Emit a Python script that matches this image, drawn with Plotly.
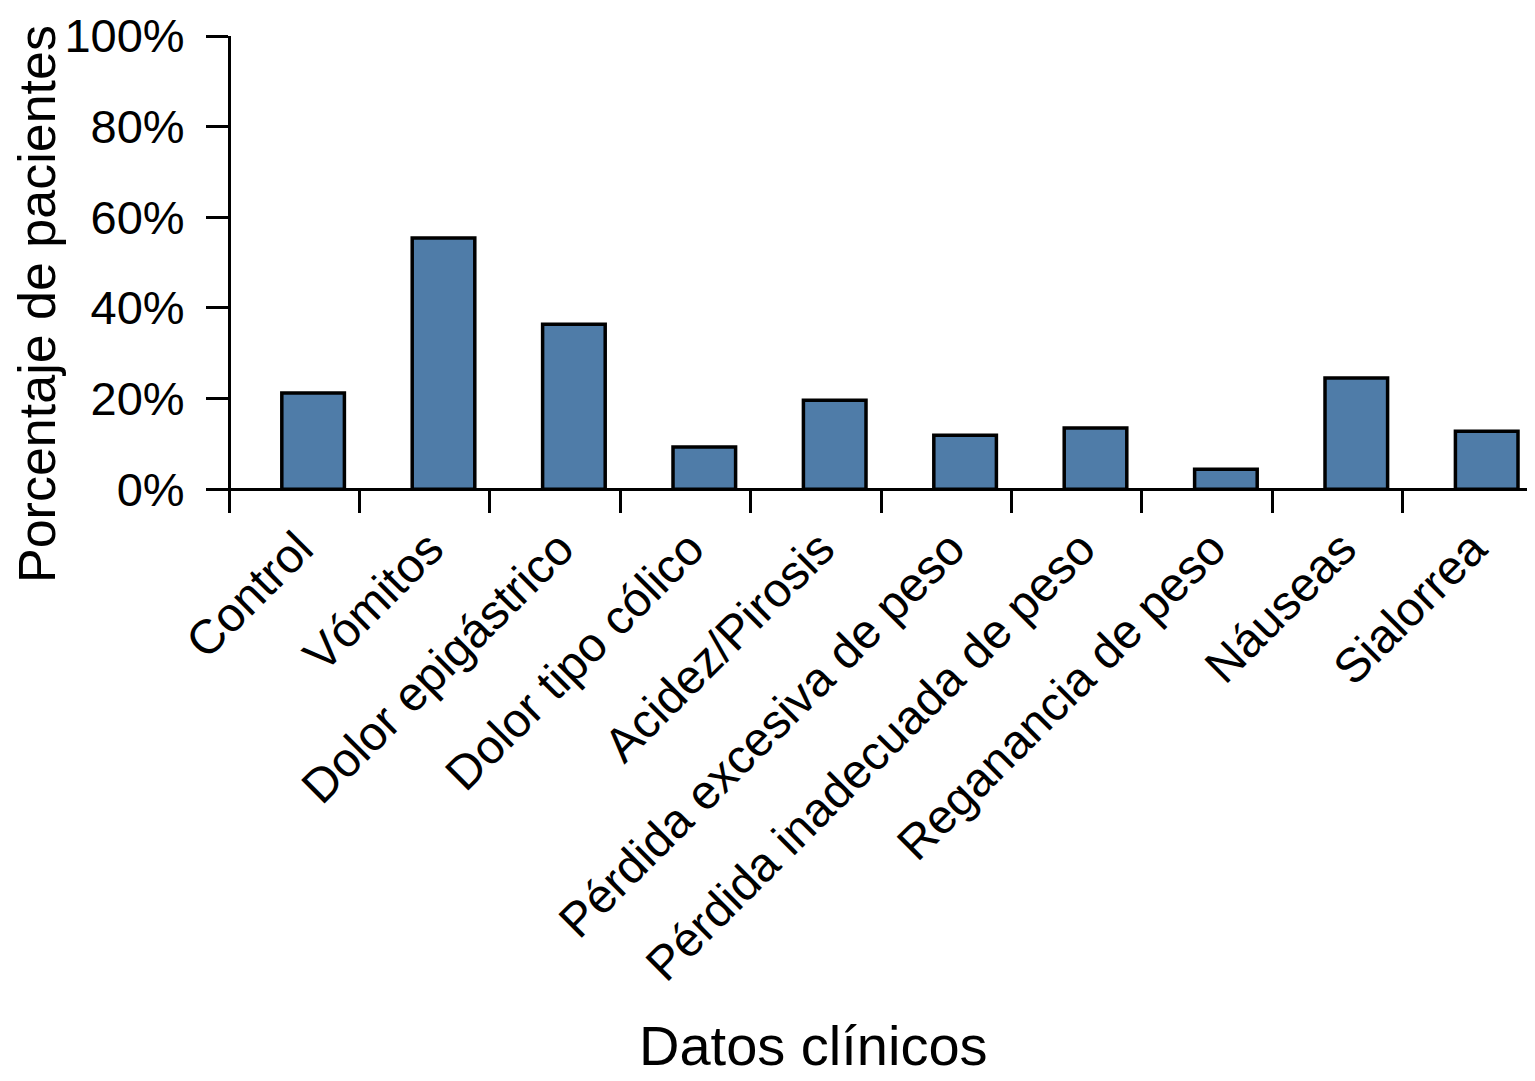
import plotly.graph_objects as go

categories = ["Control", "Vómitos", "Dolor epigástrico", "Dolor tipo cólico",
              "Acidez/Pirosis", "Pérdida excesiva de peso", "Pérdida inadecuada de peso",
              "Reganancia de peso", "Náuseas", "Sialorrea"]
values = [21.2, 55.4, 36.4, 9.3, 19.6, 11.9, 13.5, 4.4, 24.5, 12.8]
y_ticks = [0, 20, 40, 60, 80, 100]
y_tick_labels = ["0%", "20%", "40%", "60%", "80%", "100%"]

positions = list(range(len(categories)))
boundaries = [p - 0.645 for p in positions] + [positions[-1] + 0.355]
label_positions = [p - 0.11 for p in positions]

FONT = "Liberation Sans, Arial, sans-serif"

fig = go.Figure()
fig.add_trace(go.Bar(
    x=positions, y=values, width=0.48,
    marker=dict(color="#4f7ca8", line=dict(color="black", width=3.5)),
))

# page body has an 8px margin; coordinates below are in figure space
OFF = 8
W, H = 1535 - OFF, 1081 - OFF
ml = 211 - OFF
mt = 36 - OFF
plot_right = 1533 - OFF
plot_bottom = 500 - OFF
mr = W - plot_right
mb = H - plot_bottom
plot_w = W - ml - mr
plot_h = H - mt - mb
yr = [-2.4, 100]

fig.update_layout(
    width=W, height=H,
    margin=dict(l=ml, r=mr, t=mt, b=mb),
    plot_bgcolor="white", paper_bgcolor="white",
    showlegend=False,
    font=dict(family=FONT, size=46, color="black"),
    xaxis=dict(
        range=[boundaries[0] - 18 / 130.4, boundaries[-1]],
        tickmode="array", tickvals=label_positions, ticktext=categories,
        tickangle=-45, ticks="outside", ticklen=10, tickcolor="rgba(0,0,0,0)",
        showline=True, linecolor="black", linewidth=3,
        showgrid=False, zeroline=False,
        anchor="free", position=(0 - yr[0]) / (yr[1] - yr[0]),
        tickfont=dict(size=48),
        minor=dict(tickmode="array", tickvals=boundaries, ticks="outside",
                   ticklen=22, tickwidth=3, tickcolor="black", showgrid=False),
    ),
    yaxis=dict(
        range=yr,
        tickmode="array", tickvals=y_ticks, ticktext=y_tick_labels,
        ticks="outside", ticklen=22, tickwidth=3, tickcolor="black",
        ticklabelstandoff=12,
        showline=True, linecolor="black", linewidth=3,
        showgrid=False, zeroline=False,
        anchor="free", position=18 / plot_w,
        tickfont=dict(size=47),
    ),
    annotations=[
        dict(text="Porcentaje de pacientes", xref="paper", yref="paper",
             x=(37 - OFF - ml) / plot_w, y=(mt + plot_h - (304 - OFF)) / plot_h,
             textangle=-90, showarrow=False, font=dict(size=52),
             xanchor="center", yanchor="middle", borderpad=0),
        dict(text="Datos clínicos", xref="paper", yref="paper",
             x=(813 - OFF - ml) / plot_w, y=(mt + plot_h - (1045 - OFF)) / plot_h,
             showarrow=False, font=dict(size=56),
             xanchor="center", yanchor="middle"),
    ],
)

fig.write_html("out.html")
